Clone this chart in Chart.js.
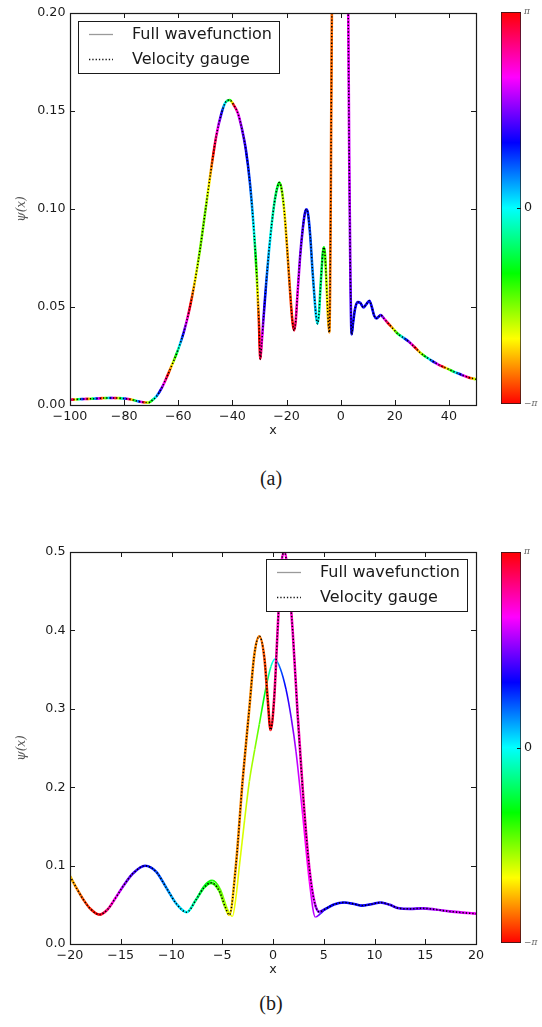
<!DOCTYPE html>
<html lang="en">
<head>
<meta charset="UTF-8">
<title>Wavefunction modulus and phase</title>
<script src="https://cdn.jsdelivr.net/npm/chart.js"></script>
<style>
    body {
        margin: 0;
        background: #fff;
        width: 542px;
        height: 1027px;
        position: relative;
        overflow: hidden;
    }
    canvas { position: absolute; }
    .cap {
        position: absolute;
        left: 0;
        width: 542px;
        text-align: center;
        font-family: 'Liberation Serif', 'DejaVu Serif', serif;
        font-size: 20px;
        line-height: 20px;
        color: #1a1a1a;
    }
</style>
</head>
<body>
<canvas id="mainA" width="490" height="445" style="left:0;top:0"></canvas>
<canvas id="barA" width="52" height="445" style="left:490px;top:0"></canvas>
<div class="cap" style="top:468px">(a)</div>
<canvas id="mainB" width="490" height="445" style="left:0;top:539px"></canvas>
<canvas id="barB" width="52" height="445" style="left:490px;top:539px"></canvas>
<div class="cap" style="top:993px">(b)</div>

<script>
// ---- panel (a): |psi(x)| and phase (rad, unwrapped) ----
const xA = [-100, -98, -96, -94, -92, -90, -88, -86, -84, -82, -80, -78, -76, -74, -72, -71, -70, -68, -66, -64,
    -62, -60, -58, -56, -54, -52, -50, -48, -46, -44, -42.5, -41, -39.5, -38, -36.5, -35, -33.5, -32, -31, -30.2,
    -29.7, -29.2, -28.5, -27.5, -26.5, -25.5, -24.5, -23.5, -22.7, -21.8, -20.8, -19.8, -18.8, -17.8, -17.2, -16.6, -16, -15, -14, -13.2,
    -12.6, -12, -11.2, -10.4, -9.6, -9, -8.5, -8, -7.5, -7, -6.6, -6.2, -5.8, -5.4, -5, -4.6, -4.2, -3.9, -3.6, -3.3,
    -3, -2.5, -2, -1.4, -0.8, -0.3, 0.3, 0.8, 1.2, 1.8, 2.3, 2.8, 3.2, 3.6, 4.05, 4.6, 5.3, 6.3, 7.3, 8.4,
    9.5, 10.6, 11.5, 12.4, 13.3, 14, 14.8, 15.8, 17, 19, 21, 23, 25, 27, 29, 31, 33, 35, 37, 39,
    41, 43, 45, 47, 50];
const ampA = [0.0027, 0.0028, 0.0030, 0.0031, 0.0032, 0.0033, 0.0035, 0.0036, 0.0036, 0.0035, 0.0033, 0.0029, 0.0023, 0.0017, 0.0013, 0.0012, 0.0020, 0.0045, 0.0090, 0.0150,
    0.0215, 0.0285, 0.0370, 0.0480, 0.0620, 0.0790, 0.0990, 0.1190, 0.1370, 0.1490, 0.1545, 0.1556, 0.1530, 0.1490, 0.1410, 0.1300, 0.1130, 0.0880, 0.0660, 0.0420,
    0.0235, 0.0310, 0.0445, 0.0625, 0.0785, 0.0920, 0.1030, 0.1105, 0.1135, 0.1100, 0.0985, 0.0805, 0.0600, 0.0425, 0.0380, 0.0430, 0.0555, 0.0755, 0.0900, 0.0980,
    0.0998, 0.0970, 0.0855, 0.0685, 0.0535, 0.0445, 0.0415, 0.0470, 0.0590, 0.0700, 0.0775, 0.0805, 0.0770, 0.0670, 0.0540, 0.0430, 0.0370, 0.0600, 0.1200, 0.1900,
    0.2500, 0.3300, 0.3800, 0.3950, 0.3500, 0.2900, 0.3500, 0.4500, 0.5000, 0.4500, 0.3300, 0.2000, 0.1200, 0.0650, 0.0360, 0.0420, 0.0490, 0.0525, 0.0520, 0.0498,
    0.0515, 0.0532, 0.0500, 0.0455, 0.0442, 0.0450, 0.0459, 0.0445, 0.0425, 0.0395, 0.0365, 0.0345, 0.0325, 0.0300, 0.0272, 0.0250, 0.0232, 0.0215, 0.0200, 0.0188,
    0.0175, 0.0163, 0.0152, 0.0142, 0.0131];
const phaseA = [-23.3, -20.9, -18.5, -16.1, -13.7, -11.3, -8.9, -6.5, -4.1, -1.7, 0.7, 3.1, 5.5, 7.9, 10.3, 11.0, 11.6, 12.9, 14.2, 15.6,
    16.9, 18.5, 20.1, 21.7, 22.9, 23.6, 23.6, 22.7, 21.4, 20.0, 18.7, 17.8, 15.6, 14.7, 14.1, 13.7, 13.3, 12.5, 11.0, 9.6,
    9.2, 8.6, 7.7, 7.0, 6.5, 6.1, 5.85, 5.5, 5.23, 4.7, 4.15, 3.85, 3.55, 3.2, 2.95, 2.55, 2.2, 1.6, 1.35, 1.15,
    1.05, 0.9, 0.7, 0.5, 0.3, 0.15, 0, -0.25, -0.5, -0.7, -0.9, -1.05, -1.35, -1.7, -2.1, -2.35, -2.55, -2.65, -2.7, -2.7,
    -2.75, -2.9, -3.1, -3.3, -3.6, -3.9, -4.0, -4.1, -4.15, -4.2, -4.2, -4.2, -4.4, -4.7, -5.2, -5.2, -5.2, -5.2, -5.2, -5.2,
    -5.2, -5.2, -5.2, -5.2, -5.2, -5.2, -5.0, -4.5, -3.6, -2.4, -1.1, 0.2, 1.45, 2.7, 4.0, 5.3, 6.5, 7.8, 9.1, 10.3,
    11.6, 12.9, 14.2, 15.4, 17.3];
// velocity gauge lies on top of the full wavefunction in (a)
const velXA = xA;
const velAmpA = ampA;
const velPhaseA = phaseA;
const xTicksA = [-100, -80, -60, -40, -20, 0, 20, 40];
const yTicksA = [0, 0.05, 0.10, 0.15, 0.20];

// ---- panel (b) ----
const xB = [-20, -19.3, -18.6, -18, -17.1, -16.3, -15.5, -14.7, -13.8, -12.6, -11.5, -10.5, -9.5, -8.5, -7.6, -6.8, -6, -5.2, -4.5, -4,
    -3.6, -3.3, -2.8, -2.33, -1.8, -1.35, -0.7, -0.2, 0.2, 0.7, 1.28, 1.8, 2.27, 2.92, 3.58, 4.17, 4.7, 5.2, 6, 7,
    8, 8.8, 9.8, 10.6, 11.5, 12.4, 13.5, 14.7, 16, 17.4, 18.7, 20];
const ampB = [0.0865, 0.0700, 0.0550, 0.0450, 0.0375, 0.0440, 0.0590, 0.0750, 0.0900, 0.0998, 0.0920, 0.0715, 0.0510, 0.0405, 0.0560, 0.0740, 0.0812, 0.0700, 0.0450, 0.0353,
    0.0650, 0.1010, 0.1580, 0.2075, 0.2480, 0.2800, 0.3265, 0.3540, 0.3635, 0.3520, 0.3250, 0.2880, 0.2450, 0.1650, 0.0800, 0.0345, 0.0390, 0.0450, 0.0505, 0.0530,
    0.0510, 0.0490, 0.0510, 0.0530, 0.0500, 0.0455, 0.0448, 0.0455, 0.0440, 0.0416, 0.0400, 0.0387];
const phaseB = [-2.3, -2.6, -2.85, -3.0, -3.2, -3.7, -4.2, -4.6, -4.95, -5.2, -5.5, -5.8, -6.05, -6.28, -6.8, -7.2, -7.4, -7.7, -8.1, -8.3,
    -8.3, -8.25, -8.2, -8.1, -7.9, -7.65, -7.1, -6.6, -6.2, -5.6, -5.2, -4.8, -4.5, -4.2, -4.2, -4.5, -5.0, -5.2, -5.2, -5.2,
    -5.2, -5.2, -5.15, -5.1, -5.0, -4.95, -4.85, -4.7, -4.5, -4.4, -4.3, -4.2];
const velXB = [-20, -19.3, -18.6, -18, -17.1, -16.3, -15.5, -14.7, -13.8, -12.6, -11.5, -10.5, -9.5, -8.5, -7.6, -6.8, -6.1, -5.3, -4.7, -4.3,
    -3.65, -3.0, -2.33, -1.84, -1.35, -0.85, -0.53, -0.24, 0.12, 0.45, 0.79, 1.11, 1.54, 1.94, 2.43, 2.99, 3.58, 4.07, 4.56, 5.2,
    6, 7, 8, 8.8, 9.8, 10.6, 11.5, 12.4, 13.5, 14.7, 16, 17.4, 18.7, 20];
const velAmpB = [0.0865, 0.0700, 0.0550, 0.0450, 0.0375, 0.0440, 0.0590, 0.0750, 0.0900, 0.0998, 0.0920, 0.0715, 0.0510, 0.0405, 0.0560, 0.0720, 0.0780, 0.0680, 0.0470, 0.0370,
    0.1010, 0.2075, 0.3010, 0.3690, 0.3925, 0.3650, 0.3140, 0.2730, 0.3140, 0.3990, 0.4800, 0.5010, 0.4625, 0.3990, 0.2925, 0.1860, 0.0970, 0.0544, 0.0410, 0.0450,
    0.0505, 0.0530, 0.0510, 0.0490, 0.0510, 0.0530, 0.0500, 0.0455, 0.0448, 0.0455, 0.0440, 0.0416, 0.0400, 0.0387];
const velPhaseB = [-2.3, -2.6, -2.85, -3.0, -3.2, -3.7, -4.2, -4.6, -4.95, -5.2, -5.5, -5.8, -6.05, -6.28, -6.8, -7.2, -7.4, -7.7, -8.0, -8.5,
    -8.8, -8.9, -8.85, -8.85, -8.9, -9.1, -9.3, -9.45, -9.9, -10.2, -10.3, -10.35, -10.3, -10.25, -10.2, -10.15, -10.3, -10.6, -11.0, -11.5,
    -11.5, -11.5, -11.5, -11.5, -11.45, -11.4, -11.3, -11.25, -11.15, -11.0, -10.8, -10.7, -10.6, -10.5];
const xTicksB = [-20, -15, -10, -5, 0, 5, 10, 15, 20];
const yTicksB = [0, 0.1, 0.2, 0.3, 0.4, 0.5];

// ---- colour bar ----
const cbRange = [-Math.PI, Math.PI];
const cbTicks = [-Math.PI, 0, Math.PI];
const cbLabels = ['\u2212\u03c0', '0', '\u03c0'];

const seriesNames = ['Full wavefunction', 'Velocity gauge'];

Chart.defaults.font.family = "'DejaVu Sans', sans-serif";
Chart.defaults.font.size = 12.7;
Chart.defaults.color = '#1a1a1a';

const ink = '#1a1a1a';
const toPts = (xs, ys) => xs.map((x, i) => ({ x: x, y: ys[i] }));
const minus = v => (v < 0 ? '\u2212' + Math.abs(v) : String(v));

// matplotlib 'hsv' map: -pi red -> yellow -> green -> 0 cyan -> blue -> magenta -> pi red
function hsvColour(phi) {
    let t = ((phi + Math.PI) / (2 * Math.PI)) % 1;
    if (t < 0) t += 1;
    return 'hsl(' + (t * 360).toFixed(1) + ',100%,50%)';
}

function phaseSegment(g2d, phases) {
    return ctx => {
        const a = phases[ctx.p0DataIndex];
        let d = phases[ctx.p1DataIndex] - a;
        d -= 2 * Math.PI * Math.round(d / (2 * Math.PI));
        if (Math.abs(ctx.p1.x - ctx.p0.x) + Math.abs(ctx.p1.y - ctx.p0.y) < 0.01) return hsvColour(a);
        const g = g2d.createLinearGradient(ctx.p0.x, ctx.p0.y, ctx.p1.x, ctx.p1.y);
        for (let k = 0; k <= 6; k++) g.addColorStop(k / 6, hsvColour(a + d * k / 6));
        return g;
    };
}

// box + inward ticks on all four sides, like old matplotlib
const mplFrame = {
    id: 'mplFrame',
    afterDatasetsDraw(chart) {
        const a = chart.chartArea, c = chart.ctx, len = 5;
        const sx = chart.scales.x, sy = chart.scales.y;
        c.save();
        c.strokeStyle = ink;
        c.lineWidth = 1;
        c.beginPath();
        sx.ticks.forEach(t => {
            const px = Math.round(sx.getPixelForValue(t.value)) + 0.5;
            c.moveTo(px, a.bottom); c.lineTo(px, a.bottom - len);
            c.moveTo(px, a.top); c.lineTo(px, a.top + len);
        });
        sy.ticks.forEach(t => {
            const py = Math.round(sy.getPixelForValue(t.value)) + 0.5;
            c.moveTo(a.left, py); c.lineTo(a.left + len, py);
            c.moveTo(a.right, py); c.lineTo(a.right - len, py);
        });
        c.stroke();
        c.lineWidth = 1.2;
        c.strokeRect(Math.round(a.left) + 0.5, Math.round(a.top) + 0.5, Math.round(a.right - a.left), Math.round(a.bottom - a.top));
        c.restore();
    }
};

// framed legend inside the axes
const boxLegend = {
    id: 'boxLegend',
    afterDraw(chart, args, o) {
        const a = chart.chartArea, c = chart.ctx;
        const w = 201, h = 52;
        const left = Math.round(o.side === 'left' ? a.left + o.dx : a.right - o.dx - w);
        const top = Math.round(a.top + o.dy);
        c.save();
        c.fillStyle = '#fff';
        c.fillRect(left, top, w, h);
        c.strokeStyle = ink;
        c.lineWidth = 1;
        c.strokeRect(left + 0.5, top + 0.5, w, h);
        const rows = [top + 13, top + 38];
        c.lineWidth = 1.3;
        c.strokeStyle = '#9a9a9a';
        c.beginPath(); c.moveTo(left + 11, rows[0] + 0.5); c.lineTo(left + 35, rows[0] + 0.5); c.stroke();
        c.strokeStyle = '#111';
        c.setLineDash([1.3, 2]);
        c.beginPath(); c.moveTo(left + 11, rows[1] + 0.5); c.lineTo(left + 35, rows[1] + 0.5); c.stroke();
        c.setLineDash([]);
        c.fillStyle = ink;
        c.font = "16px 'DejaVu Sans'";
        c.textBaseline = 'middle';
        c.fillText(seriesNames[0], left + 54, rows[0] + 1);
        c.fillText(seriesNames[1], left + 54, rows[1] + 1);
        c.restore();
    }
};

function mainChart(id, d) {
    const canvas = document.getElementById(id);
    const g2d = canvas.getContext('2d');
    return new Chart(canvas, {
        type: 'line',
        data: {
            datasets: [
                {
                    label: seriesNames[1] + ' dots',
                    data: toPts(d.vx, d.vamp),
                    borderColor: '#000',
                    borderWidth: 1.5,
                    borderDash: [1.3, 2],
                    borderCapStyle: 'butt',
                    order: 0
                },
                {
                    label: seriesNames[1],
                    data: toPts(d.vx, d.vamp),
                    borderWidth: 2.6,
                    segment: { borderColor: phaseSegment(g2d, d.vphase) },
                    order: 1
                },
                {
                    label: seriesNames[0],
                    data: toPts(d.x, d.amp),
                    borderWidth: 1.6,
                    segment: { borderColor: phaseSegment(g2d, d.phase) },
                    order: 2
                }
            ]
        },
        options: {
            responsive: false,
            animation: false,
            events: [],
            layout: { padding: { top: d.padTop, right: 14, left: 0, bottom: 0 } },
            elements: { point: { radius: 0 }, line: { cubicInterpolationMode: 'monotone', fill: false } },
            plugins: {
                legend: { display: false },
                tooltip: { enabled: false },
                boxLegend: d.legend
            },
            scales: {
                x: {
                    type: 'linear',
                    min: d.xTicks[0],
                    max: d.xMax,
                    afterBuildTicks: s => { s.ticks = d.xTicks.map(v => ({ value: v })); },
                    afterFit: s => { s.height = 445 - d.bottom; },
                    grid: { display: false, drawTicks: false },
                    border: { display: false },
                    ticks: { padding: 4, maxRotation: 0, autoSkip: false, callback: v => minus(v) },
                    title: { display: true, text: 'x', padding: { top: 0, bottom: 6.4 }, font: { size: 12.7 } }
                },
                y: {
                    min: 0,
                    max: d.yTicks[d.yTicks.length - 1],
                    afterBuildTicks: s => { s.ticks = d.yTicks.map(v => ({ value: v })); },
                    afterFit: s => { s.width = 70; },
                    grid: { display: false, drawTicks: false },
                    border: { display: false },
                    ticks: { padding: 4.5, callback: v => v.toFixed(d.yDigits) },
                    title: {
                        display: true,
                        text: '\u03c8(x)',
                        color: '#555',
                        padding: { top: 15, bottom: 0 },
                        font: { family: "'DejaVu Serif', serif", style: 'italic', size: 12 }
                    }
                }
            }
        },
        plugins: [mplFrame, boxLegend]
    });
}

const cbarPlugin = {
    id: 'cbarTick',
    afterDatasetsDraw(chart) {
        const a = chart.chartArea, c = chart.ctx;
        const py = Math.round(chart.scales.y.getPixelForValue(0)) + 0.5;
        c.save();
        c.strokeStyle = ink;
        c.lineWidth = 1;
        c.beginPath(); c.moveTo(a.right, py); c.lineTo(a.right - 4, py); c.stroke();
        c.restore();
    }
};

function colourBar(id, padTop, padBottom) {
    return new Chart(document.getElementById(id), {
        type: 'bar',
        data: {
            labels: [''],
            datasets: [{
                data: [cbRange],
                barPercentage: 1,
                categoryPercentage: 1,
                borderWidth: 1,
                borderColor: ink,
                borderSkipped: false,
                backgroundColor: ctx => {
                    const ch = ctx.chart, sy = ch.scales.y;
                    if (!ch.chartArea || !sy) return 'red';
                    const g = ch.ctx.createLinearGradient(0, sy.getPixelForValue(cbRange[0]), 0, sy.getPixelForValue(cbRange[1]));
                    for (let k = 0; k <= 12; k++) g.addColorStop(k / 12, hsvColour(cbRange[0] + (cbRange[1] - cbRange[0]) * k / 12));
                    return g;
                }
            }]
        },
        options: {
            responsive: false,
            animation: false,
            events: [],
            layout: { padding: { top: padTop, bottom: padBottom, left: 11, right: 0 } },
            plugins: { legend: { display: false }, tooltip: { enabled: false } },
            scales: {
                x: { display: false },
                y: {
                    position: 'right',
                    min: cbRange[0],
                    max: cbRange[1],
                    afterBuildTicks: s => { s.ticks = cbTicks.map(v => ({ value: v })); },
                    afterFit: s => { s.width = 21; },
                    grid: { display: false, drawTicks: false },
                    border: { display: false },
                    ticks: {
                        padding: 3,
                        callback: (v, i) => cbLabels[i],
                        color: ctx => (ctx.index === 1 ? ink : '#666'),
                        font: ctx => (ctx.index === 1
                            ? { size: 12.7 }
                            : { family: "'DejaVu Serif', serif", style: 'italic', size: 9 })
                    }
                }
            }
        },
        plugins: [cbarPlugin]
    });
}

mainChart('mainA', {
    x: xA, amp: ampA, phase: phaseA,
    vx: velXA, vamp: velAmpA, vphase: velPhaseA,
    xTicks: xTicksA, xMax: 50, yTicks: yTicksA, yDigits: 2,
    padTop: 13, bottom: 405,
    legend: { side: 'left', dx: 8, dy: 8 }
});
colourBar('barA', 12, 41);

mainChart('mainB', {
    x: xB, amp: ampB, phase: phaseB,
    vx: velXB, vamp: velAmpB, vphase: velPhaseB,
    xTicks: xTicksB, xMax: 20, yTicks: yTicksB, yDigits: 1,
    padTop: 13, bottom: 405,
    legend: { side: 'right', dx: 9, dy: 7 }
});
colourBar('barB', 13, 41);
</script>
</body>
</html>
